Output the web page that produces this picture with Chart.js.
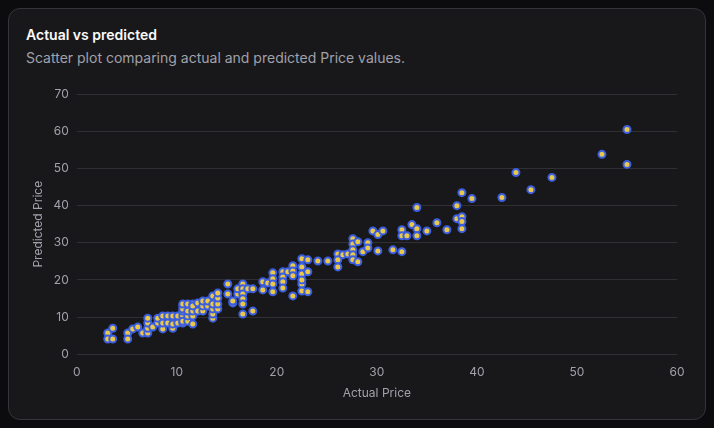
<!DOCTYPE html>
<html>
<head>
<meta charset="utf-8">
<script src="https://cdn.jsdelivr.net/npm/chart.js@4.4.1/dist/chart.umd.min.js"></script>
<style>
  html, body { margin: 0; padding: 0; background: #0c0c0e; width: 714px; height: 428px; overflow: hidden; font-family: Inter, "Noto Sans", sans-serif; }
  .card { position: absolute; left: 8px; top: 8px; width: 698px; height: 412px; background: #18181b; border: 1px solid #34343a; border-radius: 12px; box-sizing: border-box; }
  .title { position: absolute; left: 17px; top: 17px; color: #fafafa; font-size: 14px; font-weight: 600; }
  .sub { position: absolute; left: 17px; top: 40px; color: #a1a1aa; font-size: 14px; }
  .wrap { position: absolute; left: 16px; top: 70px; width: 668px; height: 326px; }
</style>
</head>
<body>
<div class="card">
  <div class="title">Actual vs predicted</div>
  <div class="sub">Scatter plot comparing actual and predicted Price values.</div>
  <div class="wrap"><canvas id="c"></canvas></div>
</div>
<script>
const actual = [3.1,3.1,3.6,3.6,5.1,5.1,5.6,6.1,6.6,7.1,7.1,7.1,7.1,7.6,8.1,8.1,8.6,8.6,8.6,9.1,9.1,9.6,9.6,9.6,10.1,10.1,10.6,10.6,10.6,10.6,10.6,10.6,10.6,11.1,11.1,11.1,11.1,11.6,11.6,11.6,11.6,11.6,12.1,12.1,12.6,12.6,12.6,13.1,13.1,13.6,13.6,13.6,13.6,13.6,14.1,14.1,14.1,14.1,15.1,15.1,15.6,15.6,16.1,16.1,16.6,16.6,16.6,16.6,16.6,16.6,17.1,17.6,17.6,18.6,18.6,19.1,19.6,19.6,19.6,19.6,20.6,20.6,20.6,20.6,21.1,21.6,21.6,21.6,21.6,22.5,22.5,22.5,22.5,22.5,22.5,23.1,23.1,23.1,24.1,25.1,26.1,26.1,26.1,26.6,27.1,27.6,27.6,27.6,27.6,27.6,28.1,28.1,28.6,29.1,29.1,29.6,30.1,30.6,30.1,31.6,32.5,32.5,32.5,33.0,33.5,34.0,34.0,34.0,35.0,36.0,37.0,38.0,38.0,38.5,38.5,38.5,38.5,39.5,42.5,43.9,45.4,47.5,52.5,55.0,55.0];
const predicted = [5.7,4.1,7.0,4.1,5.7,4.1,6.8,7.3,5.7,5.7,7.0,8.4,9.7,7.3,8.4,9.7,6.8,8.4,10.3,10.3,8.4,10.3,7.0,8.1,8.4,10.3,8.4,10.3,13.0,11.6,12.2,13.5,8.9,8.9,10.3,11.6,13.5,8.1,10.3,11.6,13.5,13.0,11.6,13.8,11.6,13.0,14.3,13.0,14.3,9.7,10.8,12.2,13.5,15.7,12.2,13.5,15.1,16.5,18.9,16.2,13.8,14.3,16.2,17.6,18.9,17.6,16.2,14.9,13.5,10.8,17.6,17.6,11.6,19.5,17.3,19.2,21.9,20.3,18.9,16.8,22.2,20.8,19.5,17.8,22.2,23.8,22.4,21.1,15.7,25.7,23.5,21.6,18.9,17.0,20.0,25.4,22.2,16.8,25.1,25.1,27.0,25.4,23.5,26.8,27.0,31.1,29.7,28.1,26.8,25.4,30.3,24.9,27.6,30.0,28.6,33.2,32.2,33.2,27.8,28.1,27.6,33.5,31.9,31.9,34.9,33.8,31.9,39.5,33.2,35.4,33.5,40.0,36.5,43.5,37.0,35.7,33.8,41.9,42.2,48.9,44.3,47.6,53.8,60.5,51.1];
const xTicks = [0,10,20,30,40,50,60];
const yTicks = [0,10,20,30,40,50,60,70];

const pts = actual.map((a, i) => ({x: a, y: predicted[i]}));
const tickColor = '#a1a1aa';
const font = {family: 'Inter, "Noto Sans", sans-serif', size: 12};

new Chart(document.getElementById('c'), {
  type: 'scatter',
  data: { datasets: [{
    label: 'Predictions',
    data: pts,
    backgroundColor: '#e9c84a',
    borderColor: '#3b5ee0',
    borderWidth: 2,
    pointRadius: 3.5
  }]},
  options: {
    responsive: true,
    maintainAspectRatio: false,
    animation: false,
    layout: { padding: { left: 2, right: 16, top: 3, bottom: 0 } },
    plugins: { legend: { display: false }, tooltip: { enabled: false } },
    scales: {
      x: {
        type: 'linear', min: 0, max: 60,
        afterBuildTicks: s => { s.ticks = xTicks.map(v => ({value: v})); },
        grid: { display: false },
        border: { display: false },
        ticks: { color: tickColor, font },
        title: { display: true, text: 'Actual Price', color: tickColor, font }
      },
      y: {
        type: 'linear', min: 0, max: 70,
        afterBuildTicks: s => { s.ticks = yTicks.map(v => ({value: v})); },
        grid: { color: '#2f2f34', drawTicks: false },
        border: { display: false },
        ticks: { color: tickColor, font, padding: 8 },
        title: { display: true, text: 'Predicted Price', color: tickColor, font, padding: { top: 4, bottom: 0 } }
      }
    }
  }
});
</script>
</body>
</html>
